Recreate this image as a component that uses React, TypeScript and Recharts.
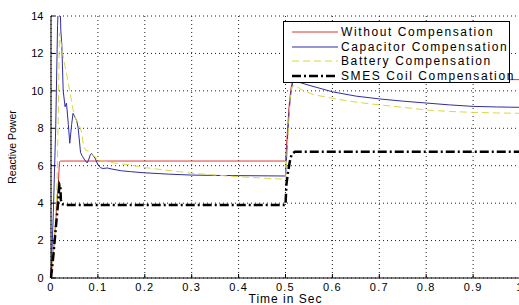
import React from 'react';
import { LineChart, Line, XAxis, YAxis, CartesianGrid, Legend } from 'recharts';

const FONT = '"Liberation Sans", Arial, Helvetica, sans-serif';

const xTicks = [0, 0.1, 0.2, 0.3, 0.4, 0.5, 0.6, 0.7, 0.8, 0.9, 1];
const yTicks = [0, 2, 4, 6, 8, 10, 12, 14];

const withoutT = [0, 0.005, 0.01, 0.015, 0.018, 0.02, 0.1, 0.3, 0.5, 0.502, 0.505, 0.508, 0.512, 0.516, 0.6, 0.8, 1.0];
const withoutV = [0, 1.3, 3.0, 4.8, 6.2, 6.25, 6.25, 6.25, 6.25, 7.0, 8.2, 9.3, 10.2, 10.6, 10.6, 10.6, 10.6];

const capT = [0, 0.005, 0.01, 0.014, 0.017, 0.019, 0.021, 0.023, 0.026, 0.03, 0.033, 0.037, 0.04, 0.044, 0.047, 0.051, 0.055, 0.058, 0.063, 0.067, 0.072, 0.077, 0.08, 0.084, 0.087, 0.091, 0.094, 0.1, 0.105, 0.111, 0.12, 0.13, 0.15, 0.17, 0.2, 0.25, 0.3, 0.35, 0.4, 0.45, 0.5, 0.502, 0.505, 0.508, 0.512, 0.515, 0.52, 0.53, 0.55, 0.6, 0.65, 0.7, 0.75, 0.8, 0.85, 0.9, 0.95, 1.0];
const capV = [0, 3.5, 8, 13.5, 15.5, 15, 13.2, 12.5, 10.0, 9.15, 9.35, 8.2, 7.2, 8.2, 8.8, 8.6, 8.4, 8.0, 6.7, 6.5, 6.3, 6.15, 6.3, 6.6, 6.65, 6.5, 6.4, 6.05, 5.9, 5.85, 5.88, 5.82, 5.73, 5.68, 5.62, 5.55, 5.5, 5.48, 5.47, 5.46, 5.45, 6.3, 7.8, 9.0, 10.0, 10.4, 10.55, 10.45, 10.3, 9.95, 9.72, 9.57, 9.45, 9.35, 9.25, 9.17, 9.14, 9.12];

const batT = [0, 0.005, 0.01, 0.013, 0.016, 0.018, 0.02, 0.025, 0.03, 0.034, 0.04, 0.047, 0.053, 0.06, 0.065, 0.07, 0.075, 0.08, 0.087, 0.093, 0.1, 0.13, 0.17, 0.2, 0.25, 0.3, 0.35, 0.4, 0.45, 0.5, 0.503, 0.507, 0.51, 0.513, 0.52, 0.535, 0.56, 0.6, 0.65, 0.7, 0.75, 0.8, 0.85, 0.9, 0.95, 1.0];
const batV = [0, 1.5, 3.3, 5.2, 9.5, 13.1, 12.8, 12.0, 11.3, 10.8, 10.0, 9.0, 8.5, 8.2, 7.8, 7.0, 6.8, 6.8, 6.6, 6.5, 6.3, 6.16, 6.04, 5.9, 5.75, 5.6, 5.5, 5.41, 5.34, 5.28, 6.5, 8.4, 9.6, 10.2, 10.3, 10.05, 9.8, 9.6, 9.4, 9.25, 9.12, 8.98, 8.9, 8.85, 8.82, 8.8];

const smesT = [0, 0.005, 0.01, 0.015, 0.018, 0.02, 0.021, 0.023, 0.03, 0.5, 0.502, 0.505, 0.509, 0.513, 0.52, 1.0];
const smesV = [0, 1.2, 2.6, 4.0, 5.0, 4.9, 4.2, 3.95, 3.9, 3.9, 5.0, 5.6, 6.2, 6.6, 6.75, 6.75];

const toPoints = (ts: number[], vs: number[]) => ts.map((t, i) => ({ t, v: vs[i] }));

const series = [
  { name: 'Without Compensation', data: toPoints(withoutT, withoutV), color: '#e03434', width: 1, dash: undefined as string | undefined },
  { name: 'Capacitor Compensation', data: toPoints(capT, capV), color: '#2e2ea4', width: 1, dash: undefined as string | undefined },
  { name: 'Battery Compensation', data: toPoints(batT, batV), color: '#d8d840', width: 1, dash: '7 4' },
  { name: 'SMES Coil Compensation', data: toPoints(smesT, smesV), color: '#000000', width: 2.5, dash: '9 3 2 3' },
];

const renderLegend = () => (
  <div
    style={{
      width: 227,
      height: 62,
      border: '1px solid #000',
      background: '#fff',
      boxSizing: 'border-box',
      paddingTop: 3,
      fontFamily: FONT,
    }}
  >
    {series.map((s) => (
      <div key={s.name} style={{ height: 14.5, display: 'flex', alignItems: 'center' }}>
        <svg width={57} height={14} style={{ flex: 'none' }}>
          <line x1={8} y1={7} x2={54} y2={7} stroke={s.color} strokeWidth={s.width} strokeDasharray={s.dash} />
        </svg>
        <span style={{ fontSize: 12, letterSpacing: 1.6, color: '#000', whiteSpace: 'nowrap', lineHeight: '14px' }}>{s.name}</span>
      </div>
    ))}
  </div>
);

export default function App() {
  const tickStyle = { fontSize: 11, fill: '#000', fontFamily: FONT };
  return (
    <div style={{ position: 'absolute', left: 0, top: 0, width: 519, height: 305, overflow: 'hidden', background: '#fff' }}>
      <LineChart width={540} height={305} margin={{ top: 16, right: 20, bottom: 0, left: 0 }}>
        <CartesianGrid stroke="#222" strokeDasharray="1 3" />
        <XAxis
          dataKey="t"
          type="number"
          domain={[0, 1]}
          ticks={xTicks}
          allowDuplicatedCategory={false}
          height={27}
          stroke="#000"
          tickSize={-4}
          tickMargin={9}
          tick={{ ...tickStyle, letterSpacing: 1.2 }}
          tickFormatter={(v: number) => String(v)}
          interval={0}
          label={{ value: 'Time in Sec', position: 'insideBottom', offset: 2, style: { fontSize: 12, letterSpacing: 1, fill: '#000', fontFamily: FONT } }}
        />
        <XAxis
          xAxisId="top"
          orientation="top"
          type="number"
          domain={[0, 1]}
          ticks={xTicks}
          height={0}
          stroke="#000"
          tickSize={-4}
          tick={false}
          interval={0}
        />
        <YAxis
          type="number"
          domain={[0, 14]}
          ticks={yTicks}
          allowDataOverflow
          width={51}
          stroke="#000"
          tickSize={-4}
          tickMargin={11.5}
          tick={tickStyle}
          interval={0}
          label={{ value: 'Reactive Power', angle: -90, position: 'insideLeft', offset: 12, style: { textAnchor: 'middle', fontSize: 10.5, fill: '#000', fontFamily: FONT } }}
        />
        <Legend
          layout="vertical"
          align="center"
          verticalAlign="middle"
          content={renderLegend}
          wrapperStyle={{ position: 'absolute', left: 283, top: 21, width: 228, height: 62 }}
        />
        {series.map((s) => (
          <Line
            key={s.name}
            data={s.data}
            dataKey="v"
            name={s.name}
            type="linear"
            stroke={s.color}
            strokeWidth={s.width}
            strokeDasharray={s.dash}
            dot={false}
            activeDot={false}
            isAnimationActive={false}
          />
        ))}
      </LineChart>
    </div>
  );
}
